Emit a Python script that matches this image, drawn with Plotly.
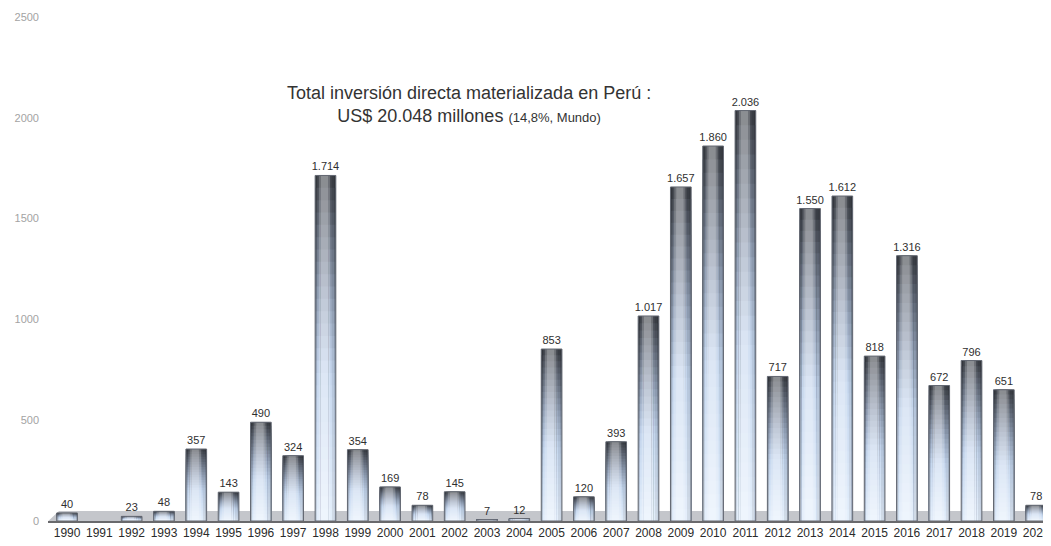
import plotly.graph_objects as go

years = list(range(1990, 2021))
values = [40, None, 23, 48, 357, 143, 490, 324, 1714, 354, 169, 78, 145, 7, 12,
          853, 120, 393, 1017, 1657, 1860, 2036, 717, 1550, 1612, 818, 1316,
          672, 796, 651, 78]
year_labels = [str(y) for y in years]
y_ticks = [0, 500, 1000, 1500, 2000, 2500]

title_line1 = "Total inversión directa materializada en Perú :"
title_line2 = "US$ 20.048 millones"
title_note = "(14,8%, Mundo)"

FONT = "Liberation Sans, Arial, sans-serif"

# vertical colour stops (relative height -> rgb), top dark, bottom light
stops = [(0.0, (230, 240, 252)), (0.45, (196, 214, 238)), (0.65, (152, 167, 190)),
         (0.85, (102, 111, 126)), (1.0, (62, 66, 74))]


def vcol(t):
    for (t0, c0), (t1, c1) in zip(stops[:-1], stops[1:]):
        if t <= t1:
            u = (t - t0) / (t1 - t0)
            return tuple(a + (b - a) * u for a, b in zip(c0, c1))
    return stops[-1][1]


def shade(c, h):
    # h: 0 = edge (darker), 1 = centre (lighter)
    if h < 0.5:
        k = 0.8 + 0.2 * (h / 0.5)
        return tuple(v * k for v in c)
    u = (h - 0.5) / 0.5 * 0.4
    return tuple(v + (255 - v) * u for v in c)


def rgb(c):
    return "rgb(%d,%d,%d)" % tuple(round(v) for v in c)


fig = go.Figure()

# floor of the 3D chart
fig.add_shape(type="path",
              path="M 1989.42,0 L 1989.75,50 L 2020.6,50 L 2020.6,0 Z",
              xref="x", yref="y", fillcolor="rgb(196,198,203)",
              line=dict(width=0), layer="below")

widths = [0.64, 0.54, 0.44, 0.34, 0.22]
hs = [0.0, 0.3, 0.55, 0.8, 1.0]
N = 28
for w, h in zip(widths, hs):
    for k in range(N):
        f = 1 - k / N
        col = shade(vcol(f), h)
        fig.add_trace(go.Bar(
            x=years, y=[None if v is None else v * f for v in values],
            width=w, offset=-w / 2 - (0.03 if h > 0.5 else 0.0),
            marker=dict(color=rgb(col), line=dict(width=0)),
            hoverinfo="skip", showlegend=False))

# outline + value labels
fig.add_trace(go.Bar(
    x=years, y=values, width=0.64,
    marker=dict(color="rgba(0,0,0,0)", line=dict(color="rgb(100,105,115)", width=1)),
    texttemplate="%{y:,.0f}", textposition="outside", cliponaxis=False,
    constraintext="none",
    textfont=dict(family=FONT, size=11, color="#2f2f2f"),
    showlegend=False))

fig.add_annotation(
    x=0.42, y=0.874, xref="paper", yref="paper", showarrow=False,
    text=title_line1 + "<br>" + title_line2 + " <span style='font-size:13px'>" + title_note + "</span>",
    font=dict(family=FONT, size=18, color="#333333"),
    align="center")

# the page adds an 8px body margin, so the figure is 8px smaller than the window
fig.update_layout(
    width=1043, height=538,
    margin=dict(l=40, r=0, t=9, b=25),
    barmode="overlay",
    plot_bgcolor="white", paper_bgcolor="white",
    separators=",.",
    xaxis=dict(range=[1989.41, 2020.46], tickmode="array", tickvals=years,
               ticktext=year_labels, showgrid=False, zeroline=False,
               showline=True, linecolor="rgb(105,105,108)", linewidth=2,
               ticks="", automargin=False,
               tickfont=dict(family=FONT, size=12, color="#2a2a2a")),
    yaxis=dict(range=[0, 2500], tickmode="array", tickvals=y_ticks,
               showgrid=False, zeroline=False, showline=False, ticks="",
               automargin=False, ticklabelstandoff=8,
               tickfont=dict(family=FONT, size=11, color="#a3a3a3")),
)

fig.write_html("out.html")
